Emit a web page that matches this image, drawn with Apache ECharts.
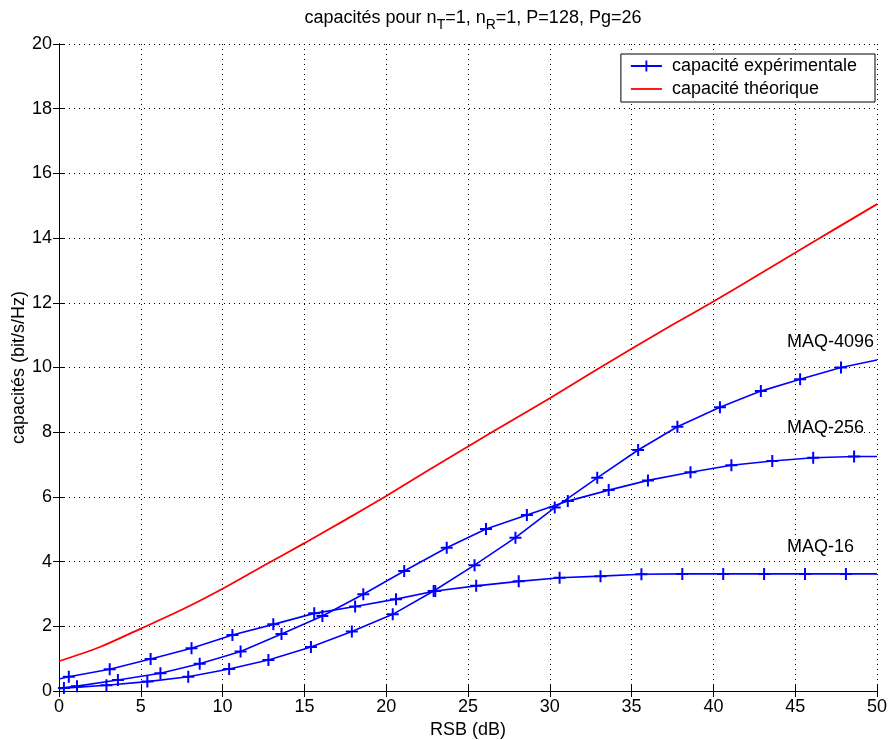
<!DOCTYPE html>
<html>
<head>
<meta charset="utf-8">
<script src="https://cdn.jsdelivr.net/npm/echarts@6/dist/echarts.min.js"></script>
<style>
  html, body { margin: 0; padding: 0; background: #fff; }
  #chart { width: 889px; height: 740px; }
</style>
</head>
<body>
<div id="chart"></div>
<script>
// Measured capacities (bit/s/Hz) versus SNR (dB) for three QAM orders
const snrQam16 = [0.6, 3.1, 5.6, 8.1, 10.6, 13.1, 15.6, 18.1, 20.6, 23.0, 25.5, 28.1, 30.6, 33.1, 35.6, 38.1, 40.6, 43.1, 45.6, 48.1];
const capQam16 = [0.44, 0.67, 0.99, 1.32, 1.73, 2.06, 2.40, 2.61, 2.84, 3.09, 3.25, 3.39, 3.50, 3.55, 3.61, 3.62, 3.62, 3.62, 3.62, 3.62];
const edgeQam16 = [0.37, 3.62];   // where the curve meets x = 0 and x = 50

const snrQam256 = [1.1, 3.6, 6.2, 8.6, 11.1, 13.6, 16.1, 18.6, 21.1, 23.7, 26.1, 28.6, 31.1, 33.6, 36.0, 38.6, 41.1, 43.6, 46.1, 48.6];
const capQam256 = [0.15, 0.34, 0.55, 0.84, 1.22, 1.76, 2.32, 2.99, 3.71, 4.43, 5.01, 5.44, 5.87, 6.21, 6.51, 6.76, 6.98, 7.11, 7.21, 7.25];
const edgeQam256 = [0.08, 7.25];

const snrQam4096 = [0.3, 2.9, 5.4, 7.9, 10.4, 12.8, 15.4, 17.9, 20.4, 22.9, 25.4, 27.9, 30.3, 32.9, 35.4, 37.8, 40.4, 42.9, 45.3, 47.8];
const capQam4096 = [0.09, 0.18, 0.29, 0.44, 0.68, 0.96, 1.36, 1.84, 2.37, 3.09, 3.89, 4.74, 5.67, 6.59, 7.45, 8.17, 8.77, 9.27, 9.64, 10.0];
const edgeQam4096 = [0.06, 10.23];

// Theoretical capacity
const snrTheory = [0, 2.5, 5, 7.5, 10, 12.5, 15, 17.5, 20, 22.5, 25, 27.5, 30, 32.5, 35, 37.5, 40, 42.5, 45, 47.5, 50];
const capTheory = [0.92, 1.36, 1.93, 2.51, 3.16, 3.87, 4.57, 5.29, 6.03, 6.80, 7.56, 8.31, 9.05, 9.82, 10.58, 11.32, 12.04, 12.79, 13.55, 14.30, 15.05];

// Curve labels
const curveLabels = ['MAQ-16', 'MAQ-256', 'MAQ-4096'];
const labelAnchors = [[44.5, 4.46], [44.5, 8.13], [44.5, 10.79]];

const xTicks = { min: 0, max: 50, interval: 5 };
const yTicks = { min: 0, max: 20, interval: 2 };

const FONT = 'Liberation Sans, Arial, Helvetica, sans-serif';
const FS = 18;
const BLUE = '#0000ff';
const RED = '#ff0000';
const EXP_NAME = 'capacité expérimentale';
const TH_NAME = 'capacité théorique';

// Plus-shaped marker
const PLUS = 'path://M5,0h2v5h5v2h-5v5h-2v-5h-5v-2h5z';
// Plain line swatch for the legend (the outer moves keep the full box size)
const LINE_SWATCH = 'path://M0,0M0,6.1h31v1.8h-31zM31,14';

function measuredData(xs, ys, edges) {
  const pts = xs.map((x, i) => [x, ys[i]]);
  return [{ value: [xTicks.min, edges[0]], symbol: 'none' }]
    .concat(pts)
    .concat([{ value: [xTicks.max, edges[1]], symbol: 'none' }]);
}

function measuredSeries(xs, ys, edges, labelIdx) {
  return {
    name: EXP_NAME,
    type: 'line',
    xAxisIndex: 0, yAxisIndex: 0,
    data: measuredData(xs, ys, edges),
    symbol: PLUS,
    symbolSize: 12,
    showAllSymbol: true,
    lineStyle: { color: BLUE, width: 1.6 },
    itemStyle: { color: BLUE },
    emphasis: { disabled: true },
    clip: true,
    markPoint: {
      symbol: 'circle',
      symbolSize: 0,
      silent: true,
      data: [{ name: curveLabels[labelIdx], coord: labelAnchors[labelIdx] }],
      label: {
        show: true, position: 'right', distance: 0, formatter: '{b}',
        color: '#000', fontSize: FS, fontFamily: FONT
      }
    }
  };
}

const chart = echarts.init(document.getElementById('chart'), null, { renderer: 'canvas' });

const axisCommon = {
  axisLine: { show: true, lineStyle: { color: '#000', width: 1 } },
  axisTick: { show: true, inside: true, length: 6, lineStyle: { color: '#000' } }
};

chart.setOption({
  animation: false,
  backgroundColor: '#fff',
  textStyle: { fontFamily: FONT },
  title: {
    text: 'capacités pour n{s|T}=1, n{s|R}=1, P=128, Pg=26',
    left: 468, textAlign: 'center', top: 0,
    textStyle: {
      fontSize: FS, fontWeight: 'normal', color: '#000', fontFamily: FONT,
      lineHeight: 27, verticalAlign: 'top',
      rich: {
        s: { fontSize: 14, fontFamily: FONT, color: '#000', verticalAlign: 'bottom', lineHeight: 14 }
      }
    }
  },
  grid: { left: 59, right: 12, top: 44, bottom: 49, containLabel: false, outerBoundsMode: 'none' },
  legend: {
    data: [
      { name: EXP_NAME },
      { name: TH_NAME, icon: LINE_SWATCH, itemStyle: { color: RED } }
    ],
    orient: 'vertical',
    right: 14, top: 54,
    backgroundColor: '#fff',
    borderColor: '#000', borderWidth: 1,
    padding: [3, 18, 4, 9],
    itemGap: 5, itemWidth: 31, itemHeight: 14,
    selectedMode: false,
    textStyle: { fontSize: FS, color: '#000', fontFamily: FONT, padding: [0, 0, 0, 5] }
  },
  xAxis: [
    Object.assign({
      type: 'value', position: 'bottom',
      min: xTicks.min, max: xTicks.max, interval: xTicks.interval,
      name: 'RSB (dB)', nameLocation: 'middle', nameGap: 30,
      nameTextStyle: { fontSize: FS, color: '#000', fontFamily: FONT },
      axisLabel: { color: '#000', fontSize: FS, fontFamily: FONT, margin: 7 },
      splitLine: { show: true, lineStyle: { color: '#000', width: 1, type: [1, 4] } }
    }, axisCommon),
    Object.assign({
      type: 'value', position: 'top',
      min: xTicks.min, max: xTicks.max, interval: xTicks.interval,
      axisLabel: { show: false }, splitLine: { show: false }
    }, axisCommon)
  ],
  yAxis: [
    Object.assign({
      type: 'value', position: 'left',
      min: yTicks.min, max: yTicks.max, interval: yTicks.interval,
      name: 'capacités (bit/s/Hz)', nameLocation: 'middle', nameGap: 31, nameRotate: 90,
      nameMoveOverlap: false,
      nameTextStyle: { fontSize: FS, color: '#000', fontFamily: FONT },
      axisLabel: { color: '#000', fontSize: FS, fontFamily: FONT, margin: 7 },
      splitLine: { show: true, lineStyle: { color: '#000', width: 1, type: [1, 4] } }
    }, axisCommon),
    Object.assign({
      type: 'value', position: 'right',
      min: yTicks.min, max: yTicks.max, interval: yTicks.interval,
      axisLabel: { show: false }, splitLine: { show: false }
    }, axisCommon)
  ],
  series: [
    measuredSeries(snrQam16, capQam16, edgeQam16, 0),
    measuredSeries(snrQam256, capQam256, edgeQam256, 1),
    measuredSeries(snrQam4096, capQam4096, edgeQam4096, 2),
    {
      name: TH_NAME,
      type: 'line',
      xAxisIndex: 0, yAxisIndex: 0,
      data: snrTheory.map((x, i) => [x, capTheory[i]]),
      symbol: 'none',
      smooth: 0.3,
      lineStyle: { color: RED, width: 1.8 },
      itemStyle: { color: RED },
      emphasis: { disabled: true }
    }
  ]
});
</script>
</body>
</html>
